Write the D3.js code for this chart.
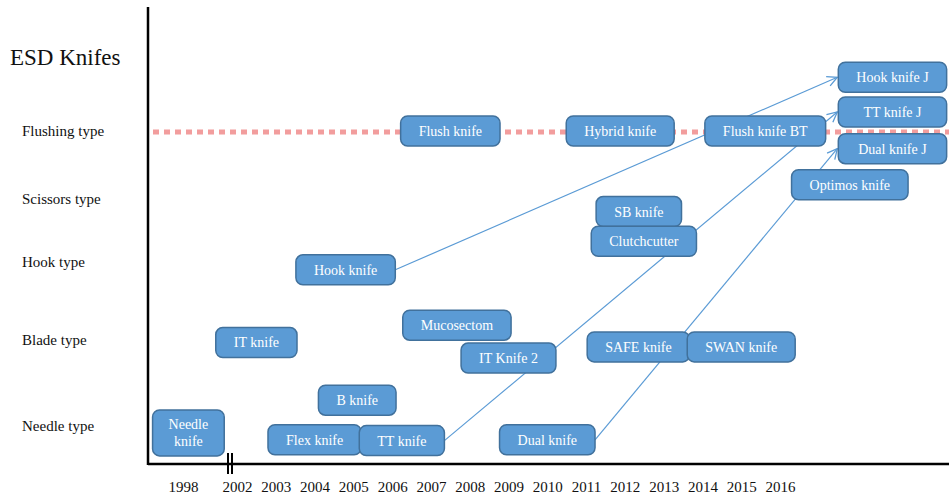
<!DOCTYPE html>
<html>
<head>
<meta charset="utf-8">
<script src="https://cdn.jsdelivr.net/npm/d3@7/dist/d3.min.js"></script>
<style>
  body { margin: 0; background: #fff; }
  svg { display: block; font-family: "Liberation Serif", "DejaVu Serif", serif; }
</style>
</head>
<body>
<div id="chart"></div>
<script>
// ---- data ----
const yearTicks = [1998, 2002, 2003, 2004, 2005, 2006, 2007, 2008, 2009, 2010, 2011, 2012, 2013, 2014, 2015, 2016];
const typeNames = ['Needle type', 'Blade type', 'Hook type', 'Scissors type', 'Flushing type'];

const knifeNames  = ['Needle knife', 'IT knife', 'Flex knife', 'B knife', 'Hook knife', 'TT knife', 'Flush knife',
                     'Mucosectom', 'IT Knife 2', 'Dual knife', 'Hybrid knife', 'SB knife', 'Clutchcutter',
                     'SAFE knife', 'SWAN knife', 'Flush knife BT', 'Optimos knife', 'Hook knife J', 'TT knife J', 'Dual knife J'];
// year (box centre) and level on the type axis (0 = needle ... 4 = flushing)
const knifeYears  = [1998.4, 2002.5, 2004.0, 2005.1, 2004.8, 2006.25, 2007.5,
                     2007.67, 2009.0, 2010.0, 2011.88, 2012.36, 2012.49,
                     2012.35, 2015.0, 2015.62, 2017.8, 2018.9, 2018.9, 2018.9];
const knifeLevels = [-0.08, 0.97, -0.16, 0.30, 1.90, -0.17, 4.0,
                     1.19, 0.79, -0.16, 4.0, 2.80, 2.33,
                     0.92, 0.92, 4.0, 3.21, 4.79, 4.28, 3.74];

const arrowFrom = ['Hook knife', 'TT knife', 'Dual knife'];
const arrowTo   = ['Hook knife J', 'TT knife J', 'Dual knife J'];

const flushingLevel = 4;

// ---- layout ----
const width = 949, height = 495;
const axisX = 148, axisTop = 7, axisY = 464;

const svg = d3.select('#chart').append('svg')
  .attr('width', width)
  .attr('height', height);

// x: broken axis, 1998 sits before the break
const xScale = d3.scaleLinear()
  .domain([1998, 2002, 2016])
  .range([183, 237, 780]);

// y: type rows are not evenly spaced
const yScale = d3.scaleLinear()
  .domain([0, 1, 2, 3, 4])
  .range([426, 340, 262, 199, 131]);

const blue = '#5b9bd5', blueEdge = '#41719c';

svg.append('defs').append('marker')
  .attr('id', 'arrow')
  .attr('viewBox', '0 0 12 12')
  .attr('refX', 11)
  .attr('refY', 6)
  .attr('markerWidth', 12)
  .attr('markerHeight', 12)
  .attr('markerUnits', 'userSpaceOnUse')
  .attr('orient', 'auto')
  .append('path')
  .attr('d', 'M1,1 L11,6 L1,11')
  .style('fill', 'none')
  .style('stroke', blue)
  .style('stroke-width', 1.3);

// title
svg.append('text')
  .attr('x', 10)
  .attr('y', 65)
  .text('ESD Knifes')
  .style('font-size', '23px')
  .style('fill', '#111');

// type labels
svg.append('g').selectAll('text')
  .data(typeNames)
  .join('text')
  .attr('x', 22)
  .attr('y', (d, i) => yScale(i))
  .attr('dy', '0.35em')
  .text(d => d)
  .style('font-size', '15px')
  .style('fill', '#111');

// flushing dotted line
svg.append('line')
  .attr('x1', 153)
  .attr('x2', width)
  .attr('y1', yScale(flushingLevel) + 1)
  .attr('y2', yScale(flushingLevel) + 1)
  .style('stroke', '#f08c8c')
  .style('stroke-width', 5)
  .style('stroke-dasharray', '6,5')
  .style('opacity', 0.85);

// boxes: measure text first to size them
const boxes = knifeNames.map((name, i) => ({
  name: name,
  year: knifeYears[i],
  lines: name === 'Needle knife' ? ['Needle', 'knife'] : [name],
  cx: xScale(knifeYears[i]),
  cy: yScale(knifeLevels[i])
}));

const measure = svg.append('text').style('font-size', '14px');
boxes.forEach(b => {
  const w = d3.max(b.lines, l => { measure.text(l); return measure.node().getComputedTextLength(); });
  b.w = b.lines.length > 1 ? w + 32 : w + 36;
  b.h = b.lines.length > 1 ? 46 : 30;
});
measure.remove();

// boxes stacked in the same column share one width
d3.group(boxes, b => b.year).forEach(col => {
  const w = d3.max(col, b => b.w);
  col.forEach(b => { b.w = w; });
});

const byName = new Map(boxes.map(b => [b.name, b]));

// arrows (under the boxes)
svg.append('g').selectAll('line')
  .data(arrowFrom.map((f, i) => [byName.get(f), byName.get(arrowTo[i])]))
  .join('line')
  .attr('x1', d => d[0].cx + d[0].w / 2)
  .attr('y1', d => d[0].cy)
  .attr('x2', d => d[1].cx - d[1].w / 2 - 1)
  .attr('y2', d => d[1].cy)
  .style('stroke', blue)
  .style('stroke-width', 1.2)
  .attr('marker-end', 'url(#arrow)');

const boxG = svg.append('g').selectAll('g')
  .data(boxes)
  .join('g')
  .attr('transform', d => `translate(${d.cx},${d.cy})`);

boxG.append('rect')
  .attr('x', d => -d.w / 2)
  .attr('y', d => -d.h / 2)
  .attr('width', d => d.w)
  .attr('height', d => d.h)
  .attr('rx', 7)
  .style('fill', blue)
  .style('stroke', blueEdge)
  .style('stroke-width', 1.5);

boxG.selectAll('text')
  .data(d => d.lines.map((l, j) => ({ text: l, dy: (j - (d.lines.length - 1) / 2) * 17 })))
  .join('text')
  .attr('text-anchor', 'middle')
  .attr('y', d => d.dy)
  .attr('dy', '0.35em')
  .text(d => d.text)
  .style('font-size', '14px')
  .style('fill', '#fff');

// axes
svg.append('line')
  .attr('x1', axisX).attr('x2', axisX)
  .attr('y1', axisTop).attr('y2', axisY + 1)
  .style('stroke', '#000')
  .style('stroke-width', 2.5);

svg.append('line')
  .attr('x1', axisX).attr('x2', width)
  .attr('y1', axisY).attr('y2', axisY)
  .style('stroke', '#000')
  .style('stroke-width', 2.5);

// axis break
const breakX = xScale(2002) - 7;
[-2, 2].forEach(off => {
  svg.append('line')
    .attr('x1', breakX + off).attr('x2', breakX + off)
    .attr('y1', axisY - 11).attr('y2', axisY + 10)
    .style('stroke', '#000')
    .style('stroke-width', 2);
});

const xAxis = d3.axisBottom(xScale)
  .tickValues(yearTicks)
  .tickFormat(d3.format('d'))
  .tickSize(0)
  .tickPadding(17);

svg.append('g')
  .attr('class', 'x axis')
  .attr('transform', `translate(0,${axisY})`)
  .call(xAxis)
  .call(g => g.select('.domain').remove())
  .selectAll('text')
  .style('font-family', '"Liberation Serif", serif')
  .style('font-size', '15px')
  .style('fill', '#111');
</script>
</body>
</html>
